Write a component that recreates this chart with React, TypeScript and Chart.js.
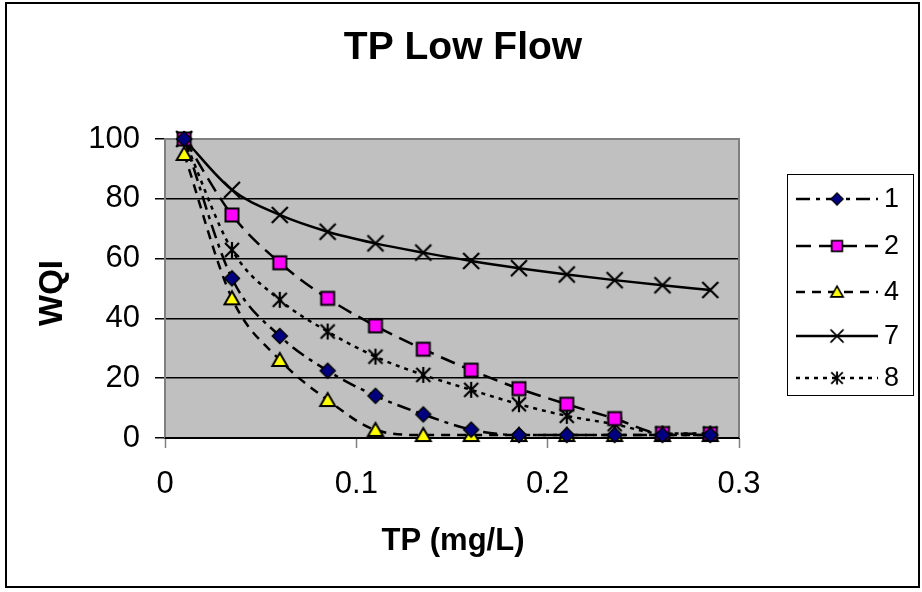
import React, { useEffect, useRef } from "react";
import { Chart, registerables } from "chart.js";

Chart.register(...registerables);

const tpValues = [0.01, 0.035, 0.06, 0.085, 0.11, 0.135, 0.16, 0.185, 0.21, 0.235, 0.26, 0.285];
const wqi1 = [100, 53.4, 34.1, 22.5, 14.1, 7.9, 2.8, 1, 1, 1, 1, 1];
const wqi2 = [100, 74.6, 58.6, 46.7, 37.5, 29.7, 22.7, 16.5, 11.3, 6.5, 1.5, 1.4];
const wqi4 = [95, 46.7, 26.1, 12.7, 2.7, 1, 1, 1, 1, 1, 1, 1];
const wqi7 = [100, 83, 74.6, 69, 65.1, 62, 59.2, 56.8, 54.7, 52.8, 51.1, 49.5];
const wqi8 = [100, 62.9, 46.2, 35.6, 27.2, 21.1, 16.1, 11.3, 7.4, 4.6, 1.5, 1.5];
const seriesLabels = ["1", "2", "4", "7", "8"];
const xTickLabels = ["0", "0.1", "0.2", "0.3"];

const FONT = 'Arial, "Liberation Sans", sans-serif';

function makeMarker(kind: string): HTMLCanvasElement {
  const s = 22;
  const c = document.createElement("canvas");
  c.width = s;
  c.height = s;
  const g = c.getContext("2d")!;
  const m = s / 2;
  g.lineJoin = "miter";
  if (kind === "diamond") {
    g.beginPath();
    g.moveTo(m, m - 7.5);
    g.lineTo(m + 7.5, m);
    g.lineTo(m, m + 7.5);
    g.lineTo(m - 7.5, m);
    g.closePath();
    g.fillStyle = "#000080";
    g.fill();
    g.lineWidth = 1.5;
    g.strokeStyle = "#000";
    g.stroke();
  } else if (kind === "square") {
    g.fillStyle = "#FF00FF";
    g.fillRect(m - 6.5, m - 6.5, 13, 13);
    g.lineWidth = 2;
    g.strokeStyle = "#000";
    g.strokeRect(m - 6.5, m - 6.5, 13, 13);
  } else if (kind === "triangle") {
    g.beginPath();
    g.moveTo(m, m - 7);
    g.lineTo(m + 7.5, m + 6);
    g.lineTo(m - 7.5, m + 6);
    g.closePath();
    g.fillStyle = "#FFFF00";
    g.fill();
    g.lineWidth = 2;
    g.strokeStyle = "#000";
    g.stroke();
  } else if (kind === "x") {
    g.strokeStyle = "#000";
    g.lineWidth = 2.2;
    g.beginPath();
    g.moveTo(m - 8, m - 8);
    g.lineTo(m + 8, m + 8);
    g.moveTo(m + 8, m - 8);
    g.lineTo(m - 8, m + 8);
    g.stroke();
  } else if (kind === "star") {
    g.strokeStyle = "#000";
    g.lineWidth = 2.2;
    g.beginPath();
    g.moveTo(m, m - 8);
    g.lineTo(m, m + 8);
    g.moveTo(m - 7, m - 7);
    g.lineTo(m + 7, m + 7);
    g.moveTo(m + 7, m - 7);
    g.lineTo(m - 7, m + 7);
    g.stroke();
  }
  return c;
}

export default function App() {
  const ref = useRef<HTMLCanvasElement | null>(null);

  useEffect(() => {
    const canvas = ref.current;
    if (!canvas) return;
    const markers = {
      diamond: makeMarker("diamond"),
      square: makeMarker("square"),
      triangle: makeMarker("triangle"),
      x: makeMarker("x"),
      star: makeMarker("star"),
    };
    const series = [
      { label: seriesLabels[0], values: wqi1, marker: markers.diamond, dash: [14, 6, 4, 6], width: 2.5 },
      { label: seriesLabels[1], values: wqi2, marker: markers.square, dash: [15, 8], width: 2.5 },
      { label: seriesLabels[2], values: wqi4, marker: markers.triangle, dash: [9, 7], width: 2.5 },
      { label: seriesLabels[3], values: wqi7, marker: markers.x, dash: [], width: 2.5 },
      { label: seriesLabels[4], values: wqi8, marker: markers.star, dash: [4, 5], width: 2.5 },
    ];

    const decor = {
      id: "decor",
      beforeDraw(chart: any) {
        const { ctx, chartArea: a } = chart;
        ctx.save();
        ctx.fillStyle = "#fff";
        ctx.fillRect(0, 0, chart.width, chart.height);
        ctx.fillStyle = "#C0C0C0";
        ctx.fillRect(a.left, a.top, a.right - a.left, a.bottom - a.top);
        ctx.restore();
      },
      beforeDatasetsDraw(chart: any) {
        const { ctx, chartArea: a } = chart;
        ctx.save();
        ctx.strokeStyle = "#808080";
        ctx.lineWidth = 2;
        ctx.beginPath();
        ctx.moveTo(a.left, a.top);
        ctx.lineTo(a.right, a.top);
        ctx.lineTo(a.right, a.bottom);
        ctx.stroke();
        ctx.strokeStyle = "#000";
        ctx.beginPath();
        ctx.moveTo(a.left, a.bottom);
        ctx.lineTo(a.right, a.bottom);
        ctx.stroke();
        ctx.restore();
      },
      afterDraw(chart: any) {
        const { ctx } = chart;
        ctx.save();
        ctx.strokeStyle = "#000";
        ctx.lineWidth = 2;
        ctx.strokeRect(6, 3, 913, 584);
        ctx.fillStyle = "#000";
        ctx.textAlign = "center";
        ctx.textBaseline = "middle";
        ctx.font = `bold 39px ${FONT}`;
        ctx.fillText("TP Low Flow", 463, 48);
        ctx.font = `bold 31px ${FONT}`;
        ctx.fillText("TP (mg/L)", 453, 541);
        ctx.save();
        ctx.translate(53, 293);
        ctx.rotate(-Math.PI / 2);
        ctx.font = `bold 33px ${FONT}`;
        ctx.fillText("WQI", 0, 0);
        ctx.restore();
        ctx.lineWidth = 1;
        ctx.strokeStyle = "#000";
        ctx.strokeRect(787.5, 174.5, 126, 221);
        const ys = [199, 246, 292, 336, 378];
        series.forEach((s, i) => {
          const y = ys[i];
          ctx.save();
          ctx.strokeStyle = "#000";
          ctx.lineWidth = s.width;
          ctx.setLineDash(s.dash);
          ctx.beginPath();
          ctx.moveTo(796, y);
          ctx.lineTo(878, y);
          ctx.stroke();
          ctx.restore();
          const sz = 18;
          ctx.drawImage(s.marker, 837 - sz / 2, y - sz / 2, sz, sz);
          ctx.fillStyle = "#000";
          ctx.textAlign = "left";
          ctx.textBaseline = "middle";
          ctx.font = `27px ${FONT}`;
          ctx.fillText(s.label, 884, y + 1);
        });
        ctx.restore();
      },
    };

    const chart = new Chart(canvas, {
      type: "line",
      data: {
        datasets: series.map((s) => ({
          label: s.label,
          data: tpValues.map((x, i) => ({ x, y: s.values[i] })),
          borderColor: "#000",
          borderWidth: s.width,
          borderDash: s.dash,
          fill: false,
          cubicInterpolationMode: "monotone" as const,
          pointStyle: s.marker,
          pointRadius: 8,
          clip: false as any,
        })),
      },
      options: {
        responsive: false,
        animation: false,
        layout: { padding: { left: 0, right: 183, top: 139, bottom: 0 } },
        plugins: { legend: { display: false }, title: { display: false }, tooltip: { enabled: false } },
        scales: {
          x: {
            type: "linear",
            min: 0,
            max: 0.3,
            afterFit: (sc: any) => {
              sc.height = 154;
            },
            ticks: {
              stepSize: 0.1,
              color: "#000",
              padding: 18,
              font: { family: FONT, size: 31 },
              callback: (v: any) => {
                const idx = Math.round(Number(v) * 10);
                return xTickLabels[idx] ?? "";
              },
              maxRotation: 0,
            },
            grid: {
              drawOnChartArea: false,
              drawTicks: true,
              tickLength: 10,
              tickColor: "#808080",
              tickWidth: 1.5,
            },
            border: { display: true, color: "#000", width: 2 },
          },
          y: {
            min: 0,
            max: 100,
            afterFit: (sc: any) => {
              sc.width = 165;
            },
            ticks: {
              stepSize: 20,
              color: "#000",
              padding: 15,
              font: { family: FONT, size: 31 },
            },
            grid: {
              color: (c: any) => (c.tick && c.tick.value === 100 ? "#808080" : "#000"),
              lineWidth: 1.5,
              drawTicks: true,
              tickLength: 10,
              tickColor: "#000",
              tickWidth: 1.5,
            },
            border: { display: true, color: "#808080", width: 2 },
          },
        },
      },
      plugins: [decor],
    });
    return () => chart.destroy();
  }, []);

  return (
    <div style={{ position: "fixed", left: 0, top: 0, width: 922, height: 592 }}>
      <canvas ref={ref} width={922} height={592} style={{ display: "block" }} />
    </div>
  );
}
